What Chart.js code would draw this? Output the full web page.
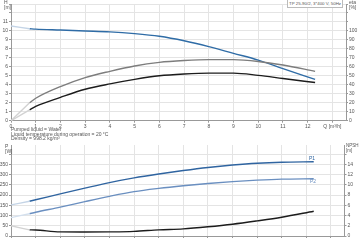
<!DOCTYPE html>
<html lang="en">
  <head>
    <meta charset="UTF-8" />
    <title>TP 25-90/2 pump curves</title>
    <script src="https://cdn.jsdelivr.net/npm/chart.js"></script>
    <style>
      body { margin: 0; width: 360px; height: 242px; background: #fff; position: relative; overflow: hidden;
             font-family: "Liberation Sans", Arial, sans-serif; color: #555; }
      canvas { position: absolute; left: 0; }
      .txt { position: absolute; font-size: 5px; line-height: 4.6px; white-space: nowrap; }
      .title { position: absolute; right: 17px; top: -1px; height: 7px; padding: 0 1px; border: 1px solid #bbb;
               font-size: 4.4px; line-height: 7px; white-space: nowrap; background: #fff; }
    </style>
  </head>
  <body>
    <canvas id="topChart" style="top:0" width="360" height="130"></canvas>
    <canvas id="bottomChart" style="top:140px" width="360" height="102"></canvas>

    <div class="title">TP 25-90/2, 3*400 V, 50Hz</div>
    <div class="txt" style="left:4px;top:0">H<br>[m]</div>
    <div class="txt" style="left:349px;top:0">eta<br>[%]</div>
    <div class="txt" style="left:11px;top:127px">Pumped liquid = Water<br>Liquid temperature during operation = 20 °C<br>Density = 998.2 kg/m³</div>
    <div class="txt" style="left:5px;top:144px">P<br>[W]</div>
    <div class="txt" style="left:346px;top:144px;font-size:4.5px">NPSH<br>[m]</div>
    <div class="txt" style="left:309px;top:156px;color:#2f64a0">P1</div>
    <div class="txt" style="left:310px;top:179px;color:#6a8fc0">P2</div>

    <script>
      // flow points of the solid part of every curve, Q [m3/h]
      const q = [0.75, 1, 2, 3, 4, 5, 6, 7, 8, 9, 10, 11, 12.3];
      // pale start of every curve, from Q = 0 to the first solid point
      const qStart = [0, 0.75];

      const head = [10.25, 10.2, 10.1, 10.0, 9.9, 9.7, 9.4, 8.9, 8.25, 7.5, 6.75, 5.8, 4.6];
      const headStart = [10.55, 10.25];
      const etaPump = [20, 25, 38, 48, 55, 61, 65, 67, 68, 68, 66, 62, 55];
      const etaPumpStart = [0, 20];
      const etaTotal = [12, 16, 26, 35, 41, 46, 50, 52, 53, 53, 50.5, 47, 42.5];
      const etaTotalStart = [0, 12];

      const p1 = [170, 177, 206, 234, 261, 284, 303, 320, 335, 347, 356, 361, 363];
      const p1Start = [152, 170];
      const p2 = [109, 116, 141, 168, 194, 217, 233, 246, 257, 266, 273, 278, 280];
      const p2Start = [90, 109];
      const npsh = [1.2, 1.18, 0.8, 0.78, 0.8, 0.9, 1.2, 1.4, 1.8, 2.3, 2.95, 3.67, 4.84];
      const npshStart = [2.0, 1.2];

      const qTicks = [0, 1, 2, 3, 4, 5, 6, 7, 8, 9, 10, 11, 12, 13];

      const pts = (xs, ys) => xs.map((x, i) => ({ x: x, y: ys[i] }));
      const line = (data, color, axis) => ({
        data: data, yAxisID: axis, borderColor: color, borderWidth: 1.4,
        pointRadius: 0, fill: false, cubicInterpolationMode: 'monotone'
      });

      const font = { family: 'Liberation Sans, Arial, sans-serif', size: 5 };
      const gridColor = '#e4e4e4';
      const axisColor = '#999';

      function xScale(showLabels, h) {
        return {
          type: 'linear', min: 0, max: 13.55,
          afterBuildTicks: s => { s.ticks = qTicks.map(v => ({ value: v })); },
          afterFit: s => { s.height = h; },
          grid: { color: gridColor, tickLength: 2, tickColor: axisColor },
          border: { color: axisColor },
          ticks: {
            display: showLabels, font: font, color: '#555', padding: 1, maxRotation: 0, autoSkip: false,
            callback: v => v === 13 ? 'Q [m³/h]' : v
          }
        };
      }

      function yScale(pos, max, step, lastLabel, w, showGrid) {
        return {
          type: 'linear', position: pos, min: 0, max: max,
          afterFit: s => { s.width = w; },
          afterBuildTicks: s => {
            const t = [];
            for (let v = 0; v <= max + 1e-6; v += step) t.push({ value: v });
            s.ticks = t;
          },
          grid: { display: true, drawOnChartArea: showGrid, color: gridColor, tickLength: 2, tickColor: axisColor },
          border: { color: axisColor },
          ticks: {
            font: font, color: '#555', padding: 1, autoSkip: false,
            callback: v => v > lastLabel ? '' : v
          }
        };
      }

      const common = {
        responsive: false, animation: false,
        plugins: { legend: { display: false }, tooltip: { enabled: false } }
      };

      new Chart(document.getElementById('topChart'), {
        type: 'line',
        data: {
          datasets: [
            line(pts(qStart, etaPumpStart), '#d2d2d2', 'eta'),
            line(pts(qStart, etaTotalStart), '#d2d2d2', 'eta'),
            line(pts(qStart, headStart), '#c4d4e6', 'h'),
            line(pts(q, etaPump), '#7d7d7d', 'eta'),
            line(pts(q, etaTotal), '#1c1c1c', 'eta'),
            line(pts(q, head), '#2f6ca6', 'h')
          ]
        },
        options: Object.assign({}, common, {
          layout: { padding: { top: 0, left: 0, right: 0, bottom: 0 } },
          scales: {
            x: xScale(true, 9.3),
            h: yScale('left', 13, 1, 11, 11, true),
            eta: yScale('right', 130, 10, 100, 14, false)
          }
        })
      });

      new Chart(document.getElementById('bottomChart'), {
        type: 'line',
        data: {
          datasets: [
            line(pts(qStart, p1Start), '#c4d4e6', 'p'),
            line(pts(qStart, p2Start), '#d4e0ee', 'p'),
            line(pts(qStart, npshStart), '#d2d2d2', 'npsh'),
            line(pts(q, p1), '#2f64a0', 'p'),
            line(pts(q, p2), '#6a8fc0', 'p'),
            line(pts(q, npsh), '#1c1c1c', 'npsh')
          ]
        },
        options: Object.assign({}, common, {
          layout: { padding: { top: 5, left: 0, right: 0, bottom: 0 } },
          scales: {
            x: xScale(false, 6),
            p: yScale('left', 445, 50, 350, 11, true),
            npsh: yScale('right', 17.8, 2, 14, 15.5, false)
          }
        })
      });
    </script>
  </body>
</html>
